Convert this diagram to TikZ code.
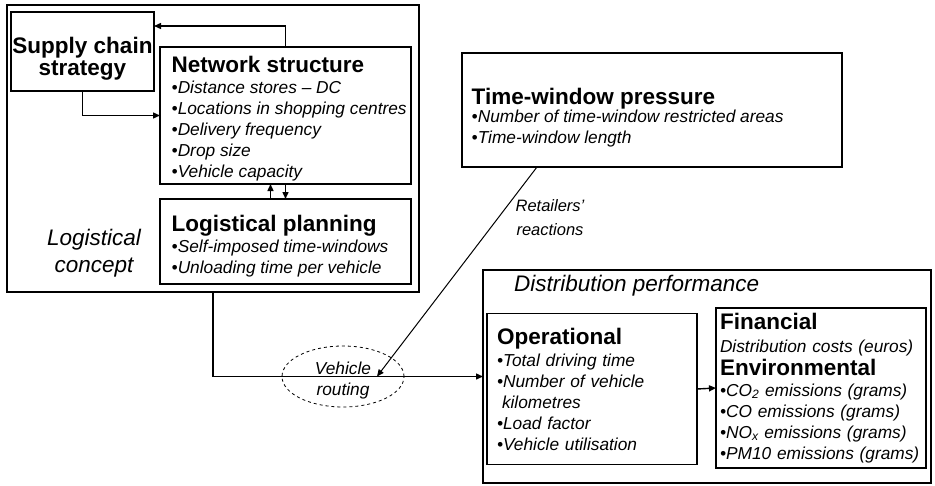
\documentclass[tikz,border=0pt]{standalone}
\usepackage{fontspec}
\setmainfont{Liberation Sans}
\usetikzlibrary{arrows.meta,shapes.geometric}
\newcommand{\hd}[1]{{\fontsize{22.5}{24}\selectfont\bfseries\upshape #1}}
\begin{document}
\begin{tikzpicture}[x=1pt,y=-1pt,>={Triangle[length=7pt,width=6pt]},line width=1.4pt,
  box/.style={draw,rectangle,inner sep=0pt,outer sep=0pt},
  txt/.style={font=\fontsize{17.3}{21}\selectfont\itshape,align=left,inner sep=0pt},
  big/.style={font=\fontsize{22.5}{27}\selectfont\itshape,align=center}]
	\useasboundingbox (0,0) rectangle (935,485);
	% logistical concept
	\node[box,minimum width=412pt,minimum height=287pt] (lc) at (213,148.5) {};
	\node[big] (lctext) at (94,253.5) {Logistical\\concept};
	\node[box,minimum width=143pt,minimum height=79pt] (scs) at (82.5,51.5) {};
	\node[align=center,font=\fontsize{22.5}{22}\selectfont\bfseries] (scstext) at (82.5,59) {Supply chain\\strategy};
	\node[box,minimum width=251pt,minimum height=137pt] (ns) at (285.5,115.5) {};
	\node[txt,anchor=north west] (nstext) at (171,55.5)
		{\hd{Network structure}\\
		•Distance stores – DC\\
		•Locations in shopping centres\\
		•Delivery frequency\\
		•Drop size\\
		•Vehicle capacity};
	\node[box,minimum width=251pt,minimum height=85pt] (lp) at (285.5,241.5) {};
	\node[txt,anchor=north west] (lptext) at (171,214)
		{\hd{Logistical planning}\\
		•Self-imposed time-windows\\
		•Unloading time per vehicle};
	\draw[->] (ns.north) |- ([yshift=25.5pt]scs.east);
	\draw[->] (scs.south) |- (ns.west);
	\draw[->] (ns.south) -- (lp.north);
	\draw[->] ([xshift=-15pt]lp.north) -- ([xshift=-15pt]ns.south);
	% time windows
	\node[box,minimum width=380pt,minimum height=114pt] (tw) at (652,110) {};
	\node[txt,anchor=north west] (twtext) at (471,87)
		{\hd{Time-window pressure}\\[-3pt]
		•Number of time-window restricted areas\\
		•Time-window length};
	% distribution performance
	\node[box,minimum width=448pt,minimum height=213pt] (dp) at (707,376.5) {};
	\node[big,anchor=west] (dptext) at (510,286) {Distribution performance};
	\node[box,txt,minimum width=210pt,minimum height=151pt,text width=190pt] (op) at (592,389)
		{\hd{Operational}\\[1pt]
		•Total driving time\\
		•Number of vehicle\\
		\hspace*{5pt}kilometres\\
		•Load factor\\
		•Vehicle utilisation};
	\node[box,txt,minimum width=210pt,minimum height=160pt,text width=202pt] (fe) at (821,388)
		{\hd{Financial}\\[2pt]
		Distribution costs (euros)\\[2pt]
		\hd{Environmental}\\
		•CO\textsubscript{2} emissions (grams)\\
		•CO emissions (grams)\\
		•NO\textsubscript{x} emissions (grams)\\
		•PM10 emissions (grams)};
	\draw[->] (op.east) -- (fe.west);
	% routing
	\node[draw,dashed,ellipse,line width=0.8pt,minimum width=122pt,minimum height=61pt,inner sep=0pt] (vr) at (343,376.5) {};
	\node[txt,align=center] (vrtext) at (343,381) {Vehicle\\routing};
	\draw[->] (lc.south) |- (dp.west);
	\coordinate (twout) at ([xshift=75pt]tw.south west);
	\coordinate (rtip) at ([xshift=34pt]vr.center);
	\draw[->,line width=1pt] (twout) -- (rtip);
	\node[txt,align=center,font=\fontsize{16.5}{24}\selectfont\itshape] (rr) at (550,218) {Retailers'\\reactions};
\end{tikzpicture}
\end{document}
